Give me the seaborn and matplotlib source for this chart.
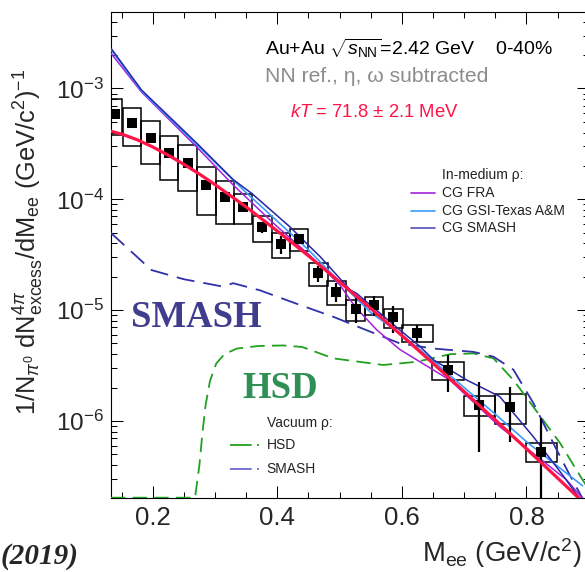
import matplotlib
matplotlib.use("Agg")
import numpy as np
import pandas as pd
import seaborn as sns
import matplotlib.pyplot as plt
from matplotlib.patches import Rectangle
from matplotlib.lines import Line2D
from matplotlib.ticker import LogLocator, MultipleLocator, NullFormatter

# ---------------- data ----------------
mass = [0.140, 0.167, 0.197, 0.226, 0.256, 0.286, 0.316, 0.345, 0.376, 0.406, 0.435,
        0.466, 0.495, 0.526, 0.555, 0.586, 0.625, 0.674, 0.724, 0.774, 0.824]
yield_ = [5.9e-4, 4.85e-4, 3.56e-4, 2.6e-4, 2.14e-4, 1.35e-4, 1.04e-4, 8.6e-5, 5.6e-5, 3.95e-5, 4.4e-5,
          2.15e-5, 1.47e-5, 1.02e-5, 1.11e-5, 8.6e-6, 6.25e-6, 2.88e-6, 1.39e-6, 1.34e-6, 5.3e-7]
stat_rel = [0.07, 0.06, 0.08, 0.06, 0.06, 0.08, 0.08, 0.08, 0.12, 0.18, 0.10,
            0.17, 0.19, 0.25, 0.20, 0.27, 0.18, 0.37, 0.62, 0.52, 0.99]
sys_rel = [0.35, 0.37, 0.42, 0.42, 0.44, 0.46, 0.42, 0.31, 0.27, 0.25, 0.22,
           0.24, 0.24, 0.22, 0.19, 0.19, 0.17, 0.19, 0.21, 0.30, 0.20]
bin_halfwidth = [0.010, 0.014, 0.015, 0.015, 0.015, 0.015, 0.015, 0.015, 0.015, 0.015, 0.015,
                 0.015, 0.015, 0.015, 0.015, 0.015, 0.025, 0.025, 0.025, 0.025, 0.025]

fit_x = [0.133, 0.15, 0.175, 0.2, 0.225, 0.25, 0.275, 0.3, 0.35, 0.4, 0.45, 0.5, 0.55,
         0.6, 0.65, 0.7, 0.75, 0.8, 0.85, 0.876, 0.9]
fit_y = [4.11e-4, 3.88e-4, 3.45e-4, 2.97e-4, 2.50e-4, 2.07e-4, 1.69e-4, 1.358e-4, 8.53e-5,
         5.18e-5, 3.09e-5, 1.80e-5, 1.035e-5, 5.89e-6, 3.31e-6, 1.84e-6, 1.02e-6, 5.6e-7,
         3.05e-7, 2.22e-7, 1.66e-7]

cg_smash_x = [0.133, 0.182, 0.271, 0.329, 0.359, 0.42, 0.447, 0.469, 0.517, 0.527, 0.597,
              0.629, 0.651, 0.704, 0.757, 0.811, 0.859, 0.885]
cg_smash_y = [2.31e-3, 9.7e-4, 3.2e-4, 1.51e-4, 1.13e-4, 5.66e-5, 4.0e-5, 3.03e-5, 1.52e-5,
              1.42e-5, 6.6e-6, 4.7e-6, 3.55e-6, 2.34e-6, 1.66e-6, 7.2e-7, 3.2e-7, 2.0e-7]

cg_fra_x = [0.133, 0.182, 0.271, 0.329, 0.394, 0.45, 0.5, 0.525, 0.56, 0.597, 0.677, 0.757,
            0.864, 0.89]
cg_fra_y = [2.08e-3, 9.3e-4, 2.95e-4, 1.35e-4, 6.07e-5, 3.2e-5, 1.7e-5, 1.07e-5, 6.6e-6,
            4.4e-6, 2.34e-6, 8.9e-7, 2.95e-7, 2.0e-7]

cg_gsi_x = [0.133, 0.182, 0.271, 0.35, 0.45, 0.5, 0.55, 0.6, 0.65, 0.7, 0.75, 0.8, 0.85, 0.89]
cg_gsi_y = [2.25e-3, 9.5e-4, 3.1e-4, 1.15e-4, 3.5e-5, 1.8e-5, 9.5e-6, 6.0e-6, 3.5e-6, 2.0e-6,
            1.15e-6, 6.5e-7, 3.9e-7, 2.6e-7]

smash_vac_x = [0.133, 0.198, 0.25, 0.313, 0.329, 0.372, 0.437, 0.49, 0.543, 0.597, 0.651,
               0.715, 0.747, 0.779, 0.811, 0.843, 0.87, 0.89]
smash_vac_y = [4.97e-5, 2.3e-5, 1.9e-5, 1.63e-5, 1.75e-5, 1.51e-5, 1.11e-5, 8.7e-6, 6.6e-6,
               5.0e-6, 4.5e-6, 4.2e-6, 3.8e-6, 2.9e-6, 1.45e-6, 6.3e-7, 3.2e-7, 2.0e-7]

hsd_vac_x = [0.133, 0.268, 0.275, 0.28, 0.285, 0.292, 0.302, 0.315, 0.335, 0.37, 0.41, 0.44,
             0.49, 0.57, 0.624, 0.677, 0.715, 0.747, 0.779, 0.811, 0.854, 0.886, 0.9]
hsd_vac_y = [2.03e-7, 2.03e-7, 4.0e-7, 8.0e-7, 1.4e-6, 2.3e-6, 3.3e-6, 4.0e-6, 4.5e-6, 4.75e-6,
             4.8e-6, 4.65e-6, 3.67e-6, 3.2e-6, 3.42e-6, 4.0e-6, 4.07e-6, 3.67e-6, 2.34e-6,
             1.34e-6, 6.3e-7, 3.2e-7, 2.4e-7]

# ---------------- style ----------------
sns.set_theme(style="ticks")
plt.rcParams['font.family'] = ['Liberation Sans', 'DejaVu Sans']
plt.rcParams['mathtext.fontset'] = 'custom'
plt.rcParams['mathtext.rm'] = 'Liberation Sans'
plt.rcParams['mathtext.it'] = 'Liberation Sans:italic'
plt.rcParams['mathtext.bf'] = 'Liberation Sans:bold'
plt.rcParams['mathtext.sf'] = 'Liberation Sans'

W, H = 585, 572
def fx(px):
    return px / W
def fy(py):
    return 1 - py / H

fig = plt.figure(figsize=(W / 100, H / 100), dpi=100)
ax = fig.add_axes([110.7 / W, 1 - 497.7 / H, (588.8 - 110.7) / W, (497.7 - 11.7) / H])
ax.set_yscale('log')
ax.set_xlim(0.1326, 0.9)
ax.set_ylim(2.03e-7, 4.93e-3)

RED = '#ff1448'
PURPLE = '#a321d8'
LBLUE = '#3a9cff'
NAVY = '#2626a6'
DNAVY = '#3030a8'
GREEN = '#22a022'

# systematic boxes
for x, y, s, hw in zip(mass, yield_, sys_rel, bin_halfwidth):
    ax.add_patch(Rectangle((x - hw, y * (1 - s)), 2 * hw, 2 * s * y, fill=False,
                           edgecolor='black', lw=1.1, zorder=2))

# model curves
def curve(xs, ys, color, lw, dashes=None, z=3):
    kw = dict(color=color, lw=lw, estimator=None, sort=False, legend=False, ax=ax, zorder=z)
    if dashes is not None:
        kw['linestyle'] = (0, dashes)
    sns.lineplot(x=xs, y=ys, **kw)

curve(hsd_vac_x, hsd_vac_y, GREEN, 1.3, (8, 4))
curve(smash_vac_x, smash_vac_y, DNAVY, 1.3, (10, 5))
curve(cg_fra_x, cg_fra_y, PURPLE, 1.1)
curve(cg_gsi_x, cg_gsi_y, LBLUE, 1.2)
curve(cg_smash_x, cg_smash_y, NAVY, 1.1)

# data
yerr_lo = [y * e for y, e in zip(yield_, stat_rel)]
yerr_hi = [y * e for y, e in zip(yield_, stat_rel)]
ax.errorbar(mass, yield_, yerr=[yerr_lo, yerr_hi], fmt='none', ecolor='black',
            elinewidth=1.6, capsize=0, zorder=4)
sns.scatterplot(x=mass, y=yield_, marker='s', s=52, color='black', edgecolor='none',
                ax=ax, zorder=5, legend=False)

curve(fit_x, fit_y, RED, 2.3, z=6)

# axes styling
for sp in ax.spines.values():
    sp.set_linewidth(0.8)
    sp.set_color('black')
ax.xaxis.set_major_locator(MultipleLocator(0.2))
ax.xaxis.set_minor_locator(MultipleLocator(0.05))
ax.yaxis.set_major_locator(LogLocator(base=10, numticks=12))
ax.yaxis.set_minor_locator(LogLocator(base=10, subs=np.arange(2, 10), numticks=12))
ax.yaxis.set_minor_formatter(NullFormatter())
ax.tick_params(which='both', direction='in', top=True, right=True, width=0.75, color='black')
ax.tick_params(which='major', length=8.5, pad=6)
ax.tick_params(which='minor', length=4.5)
ax.tick_params(axis='x', which='major', labelsize=18.5)
ax.tick_params(axis='y', which='major', pad=5, labelsize=17.5)
ax.set_xlabel('')
ax.set_ylabel('')

# ---------------- texts ----------------
fig.text(fx(265), fy(48), r"Au+Au $\sqrt{s_{\rm NN}}$=2.42 GeV    0-40%", fontsize=14,
         va='center', ha='left', color='black')
fig.text(fx(265), fy(76), "NN ref., η, ω subtracted", fontsize=15.2, va='center', ha='left',
         color='#8c8c8c')
fig.text(fx(290), fy(113), r"$kT$ = 71.8 ± 2.1 MeV", fontsize=13.3, va='center', ha='left',
         color=RED)

fig.text(fx(131), fy(327), "SMASH", family='Liberation Serif', weight='bold', fontsize=26.5,
         color='#403d8e', ha='left', va='baseline')
fig.text(fx(242), fy(398), "HSD", family='Liberation Serif', weight='bold', fontsize=26.5,
         color='#2f8f55', ha='left', va='baseline')

# in-medium legend
LEGC = '#222222'
fig.text(fx(441.7), fy(175), "In-medium ρ:", fontsize=10, va='center', color=LEGC)
for yy, col, lab in [(193.3, PURPLE, "CG FRA"), (210.7, LBLUE, "CG GSI-Texas A&M"),
                     (228.3, '#5050b8', "CG SMASH")]:
    fig.add_artist(Line2D([fx(410.7), fx(435)], [fy(yy), fy(yy)], color=col, lw=1.2,
                          transform=fig.transFigure))
    fig.text(fx(441.7), fy(yy), lab, fontsize=10, va='center', color=LEGC)

# vacuum legend
fig.text(fx(266.7), fy(422.7), "Vacuum ρ:", fontsize=10, va='center', color=LEGC)
fig.add_artist(Line2D([fx(230), fx(259)], [fy(445), fy(445)], color=GREEN, lw=1.3,
                      linestyle=(0, (12, 3, 3, 3)), transform=fig.transFigure))
fig.text(fx(266.7), fy(445), "HSD", fontsize=10, va='center', color=LEGC)
fig.add_artist(Line2D([fx(230), fx(259)], [fy(469.3), fy(469.3)], color='#6b6bd0', lw=1.3,
                      linestyle=(0, (12, 3, 3, 3)), transform=fig.transFigure))
fig.text(fx(266.7), fy(469.3), "SMASH", fontsize=10, va='center', color=LEGC)

# axis titles
fig.text(fx(29), fy(242),
         r"1/N$_{\pi^{0}}$ dN$^{4\pi}_{\rm excess}$/dM$_{\rm ee}$ (GeV/c$^{2}$)$^{-1}$",
         rotation=90, fontsize=18.3, ha='center', va='center')
fig.text(fx(582), fy(562), r"M$_{\rm ee}$ (GeV/c$^{2}$)", fontsize=19.8, ha='right',
         va='baseline')
fig.text(fx(1), fy(564), "(2019)", family='Liberation Serif', style='italic', weight='bold',
         fontsize=21, ha='left', va='baseline')

fig.savefig("out.png", dpi=100)
